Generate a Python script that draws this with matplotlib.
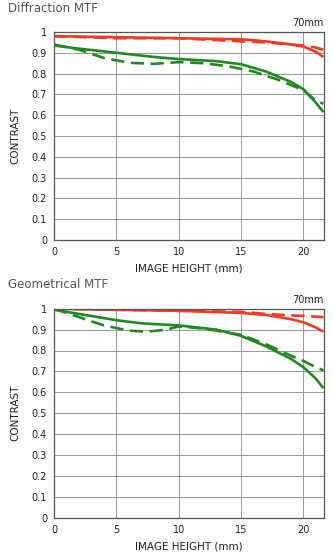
import matplotlib
matplotlib.use("Agg")
import matplotlib.pyplot as plt
import numpy as np

plt.rcParams['font.family'] = ['DejaVu Sans']

# ---- data (x = image height in mm) ----
DIFF_RED_SOLID_X = [0, 5, 10, 15, 17, 19, 20, 21, 21.6]
DIFF_RED_SOLID_Y = [0.98, 0.975, 0.97, 0.965, 0.955, 0.94, 0.93, 0.905, 0.88]
DIFF_RED_DASH_X = [0, 5, 10, 15, 17, 19, 20, 21, 21.6]
DIFF_RED_DASH_Y = [0.98, 0.97, 0.97, 0.955, 0.95, 0.94, 0.935, 0.925, 0.915]
DIFF_GRN_SOLID_X = [0, 2, 5, 8, 10, 13, 15, 17, 19, 20, 21, 21.6]
DIFF_GRN_SOLID_Y = [0.935, 0.92, 0.90, 0.88, 0.87, 0.86, 0.845, 0.81, 0.76, 0.725, 0.66, 0.615]
DIFF_GRN_DASH_X = [0, 2, 4, 6, 8, 10, 12, 14, 16, 18, 20, 21, 21.6]
DIFF_GRN_DASH_Y = [0.94, 0.915, 0.875, 0.852, 0.847, 0.855, 0.85, 0.835, 0.81, 0.77, 0.72, 0.67, 0.655]

GEO_RED_SOLID_X = [0, 5, 10, 15, 17, 19, 20, 21, 21.6]
GEO_RED_SOLID_Y = [1.0, 0.995, 0.99, 0.98, 0.97, 0.95, 0.935, 0.91, 0.89]
GEO_RED_DASH_X = [0, 5, 10, 15, 17, 19, 20, 21, 21.6]
GEO_RED_DASH_Y = [1.0, 0.995, 0.99, 0.985, 0.975, 0.968, 0.965, 0.962, 0.96]
GEO_GRN_SOLID_X = [0, 2, 5, 7, 10, 13, 15, 17, 19, 20, 21, 21.6]
GEO_GRN_SOLID_Y = [0.995, 0.975, 0.945, 0.93, 0.92, 0.9, 0.87, 0.82, 0.76, 0.72, 0.665, 0.62]
GEO_GRN_DASH_X = [0, 2, 4, 6, 7.5, 9, 10, 12, 15, 17, 19, 20, 21, 21.6]
GEO_GRN_DASH_Y = [1.0, 0.96, 0.92, 0.895, 0.89, 0.9, 0.915, 0.905, 0.875, 0.83, 0.775, 0.75, 0.72, 0.705]

X_TICKS = [0, 5, 10, 15, 20]
Y_TICKS = [0, 0.1, 0.2, 0.3, 0.4, 0.5, 0.6, 0.7, 0.8, 0.9, 1]
Y_TICK_LABELS = ["0", "0.1", "0.2", "0.3", "0.4", "0.5", "0.6", "0.7", "0.8", "0.9", "1"]

RED = "#f23a22"
GREEN = "#1f8a1f"
W, H = 333, 556


def draw_panel(ax, fig, title, title_y, curves):
    for xs, ys, color, dashed in curves:
        ax.plot(xs, ys, color=color, lw=1.9,
                ls=(0, (5, 2.5)) if dashed else "-", solid_capstyle="butt")
    ax.set_xlim(0, 21.65)
    ax.set_ylim(0, 1.0)
    ax.set_xticks(X_TICKS)
    ax.set_yticks(Y_TICKS)
    ax.set_yticklabels(Y_TICK_LABELS)
    ax.grid(True, color="#9a9a9a", lw=0.7)
    ax.set_axisbelow(True)
    ax.tick_params(length=0, labelsize=7, pad=5, colors="#222222")
    for s in ax.spines.values():
        s.set_color("#555555")
        s.set_linewidth(0.9)
    ax.set_xlabel("IMAGE HEIGHT (mm)", fontsize=7.5, labelpad=5, color="#222222")
    ax.set_ylabel("CONTRAST", fontsize=7.5, labelpad=8, color="#222222")
    ax.text(1.0, 1.02, "70mm", transform=ax.transAxes, ha="right", va="bottom",
            fontsize=7, color="#222222")
    fig.text(8 / W, 1 - title_y / H, title, ha="left", va="center",
             fontsize=8.5, color="#555555")


fig = plt.figure(figsize=(W / 100, H / 100), dpi=100)
ax1 = fig.add_axes([54 / W, 1 - 240 / H, 270 / W, 208 / H])
ax2 = fig.add_axes([54 / W, 1 - 517.7 / H, 270 / W, 209 / H])

draw_panel(ax1, fig, "Diffraction MTF", 8, [
    (DIFF_RED_DASH_X, DIFF_RED_DASH_Y, RED, True),
    (DIFF_RED_SOLID_X, DIFF_RED_SOLID_Y, RED, False),
    (DIFF_GRN_DASH_X, DIFF_GRN_DASH_Y, GREEN, True),
    (DIFF_GRN_SOLID_X, DIFF_GRN_SOLID_Y, GREEN, False),
])
draw_panel(ax2, fig, "Geometrical MTF", 285, [
    (GEO_RED_DASH_X, GEO_RED_DASH_Y, RED, True),
    (GEO_RED_SOLID_X, GEO_RED_SOLID_Y, RED, False),
    (GEO_GRN_DASH_X, GEO_GRN_DASH_Y, GREEN, True),
    (GEO_GRN_SOLID_X, GEO_GRN_SOLID_Y, GREEN, False),
])

fig.savefig("out.png", dpi=100)
